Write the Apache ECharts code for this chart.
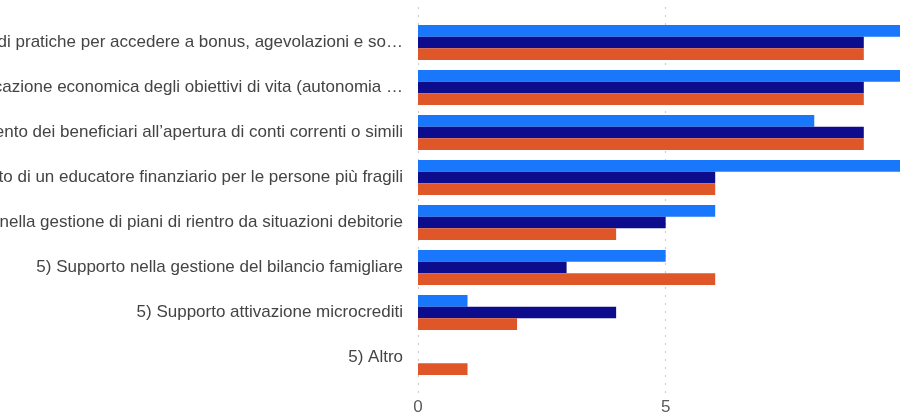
<!DOCTYPE html>
<html>
<head>
<meta charset="utf-8">
<script src="https://cdn.jsdelivr.net/npm/echarts@6/dist/echarts.min.js"></script>
<style>
  html, body { margin: 0; padding: 0; background: #fff; }
  #chart { width: 900px; height: 415px; }
</style>
</head>
<body>
<div id="chart"></div>
<script>
// Service categories (long names shortened with an ellipsis, as shown on the axis)
const categories = [
  "5) Supporto nel disbrigo di pratiche per accedere a bonus, agevolazioni e so…",
  "5) Supporto alla pianificazione economica degli obiettivi di vita (autonomia …",
  "5) Accompagnamento dei beneficiari all’apertura di conti correnti o simili",
  "5) Supporto di un educatore finanziario per le persone più fragili",
  "5) Supporto nella gestione di piani di rientro da situazioni debitorie",
  "5) Supporto nella gestione del bilancio famigliare",
  "5) Supporto attivazione microcrediti",
  "5) Altro"
];

// Counts per group
const groupA = [10, 10, 8, 10, 6, 5, 1, 0];
const groupB = [9, 9, 9, 6, 5, 3, 4, 0];
const groupC = [9, 9, 9, 6, 4, 6, 2, 1];

const tickValues = [0, 5, 10, 15];

const colors = ["#1877fb", "#0c0c8c", "#df5628"];

const chart = echarts.init(document.getElementById("chart"), null, { renderer: "canvas" });

const axisMin = tickValues[0];
const axisMax = tickValues[tickValues.length - 1];
const step = tickValues[1] - tickValues[0];
const font = "Arial, 'Liberation Sans', sans-serif";

chart.setOption({
  animation: false,
  grid: [
    { left: 418, width: 743, top: 20, height: 360, containLabel: false, outerBoundsMode: "none" },
    { left: 418, width: 743, top: 7, height: 386, containLabel: false, outerBoundsMode: "none" }
  ],
  xAxis: [
    {
      gridIndex: 0, type: "value", min: axisMin, max: axisMax, interval: step,
      axisLine: { show: false }, axisTick: { show: false },
      axisLabel: { show: false }, splitLine: { show: false }
    },
    {
      gridIndex: 1, type: "value", min: axisMin, max: axisMax, interval: step,
      axisLine: { show: false }, axisTick: { show: false },
      axisLabel: { color: "#5a5a5a", fontSize: 17, fontFamily: font, margin: 6 },
      splitLine: { show: true, lineStyle: { color: "#cfcfcf", type: [2, 6], width: 1.2 } }
    }
  ],
  yAxis: [
    {
      gridIndex: 0, type: "category", data: categories, inverse: true,
      axisLine: { show: false }, axisTick: { show: false },
      axisLabel: {
        color: "#444", fontSize: 17, fontFamily: font,
        margin: 15, align: "right"
      }
    },
    {
      gridIndex: 1, type: "value", show: false
    }
  ],
  series: [
    { name: "A", type: "bar", xAxisIndex: 0, yAxisIndex: 0, data: groupA,
      itemStyle: { color: colors[0] }, barGap: "0%", barCategoryGap: "22%" },
    { name: "B", type: "bar", xAxisIndex: 0, yAxisIndex: 0, data: groupB,
      itemStyle: { color: colors[1] }, barGap: "0%", barCategoryGap: "22%" },
    { name: "C", type: "bar", xAxisIndex: 0, yAxisIndex: 0, data: groupC,
      itemStyle: { color: colors[2] }, barGap: "0%", barCategoryGap: "22%" }
  ]
});
</script>
</body>
</html>
